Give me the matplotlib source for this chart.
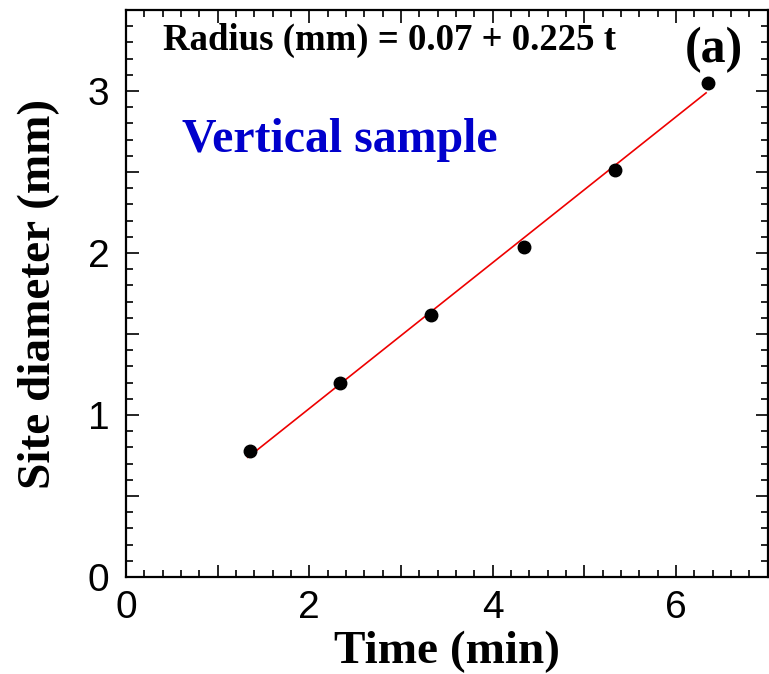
import matplotlib
matplotlib.use("Agg")
import matplotlib.pyplot as plt
from matplotlib.ticker import MultipleLocator, FuncFormatter

# Data
time_min = [1.35, 2.34, 3.33, 4.34, 5.34, 6.35]
diameter_mm = [0.78, 1.20, 1.62, 2.04, 2.51, 3.05]

# Fit: radius (mm) = 0.07 + 0.225 t  -> diameter = 2*radius
fit_intercept = 0.07
fit_slope = 0.225
fit_t = [1.33, 6.33]

xlabel = "Time (min)"
ylabel = "Site diameter (mm)"
eq_text = "Radius (mm) = 0.07 + 0.225 t"
panel_text = "(a)"
sample_text = "Vertical sample"

W, H = 769, 674
fig = plt.figure(figsize=(W / 100, H / 100), dpi=100)
ax = fig.add_axes([126 / W, 1 - 577 / H, (767.5 - 126) / W, (577 - 10) / H])

serif = "Liberation Serif"
sans = "Liberation Sans"

fit_d = [2 * (fit_intercept + fit_slope * t) for t in fit_t]
ax.plot(fit_t, fit_d, color="#ee0000", lw=1.2, zorder=2)
ax.plot(time_min, diameter_mm, "o", color="black", ms=9, zorder=3)

ax.set_xlim(0, 7)
ax.set_ylim(0, 3.5)

ax.xaxis.set_major_locator(MultipleLocator(1))
ax.xaxis.set_minor_locator(MultipleLocator(0.2))
ax.yaxis.set_major_locator(MultipleLocator(0.5))
ax.yaxis.set_minor_locator(MultipleLocator(0.1))
ax.xaxis.set_major_formatter(FuncFormatter(lambda v, p: f"{int(round(v))}" if round(v) % 2 == 0 else ""))
ax.yaxis.set_major_formatter(FuncFormatter(lambda v, p: f"{int(round(v))}" if abs(v - round(v)) < 1e-6 else ""))

ax.tick_params(which="both", direction="in", top=True, right=True, width=1.2, colors="black")
ax.tick_params(which="major", length=9)
ax.tick_params(which="minor", length=5)
ax.tick_params(axis="x", which="major", pad=9, labelsize=28)
ax.tick_params(axis="y", which="major", pad=12, labelsize=28)
for lab in ax.get_xticklabels() + ax.get_yticklabels():
    lab.set_fontfamily(sans)

for s in ax.spines.values():
    s.set_linewidth(1.6)

ax.set_xlabel(xlabel, fontfamily=serif, fontweight="bold", fontsize=34, labelpad=4)
ax.set_ylabel(ylabel, fontfamily=serif, fontweight="bold", fontsize=34, labelpad=20)

ax.text(0.40, 3.253, eq_text, fontfamily=serif, fontweight="bold", fontsize=26.5, va="baseline", ha="left")
ax.text(6.42, 3.18, panel_text, fontfamily=serif, fontweight="bold", fontsize=36, va="baseline", ha="center")
ax.text(0.61, 2.623, sample_text, fontfamily=serif, fontweight="bold", fontsize=34.5, va="baseline", ha="left", color="#0000cc")

fig.savefig("out.png", dpi=100)
